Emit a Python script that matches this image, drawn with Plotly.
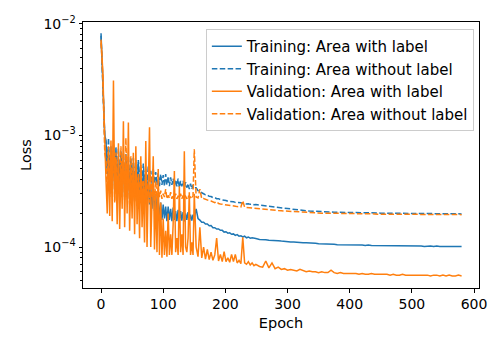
import plotly.graph_objects as go

epochs = ([0, 1, 2, 3, 4, 5, 6] + list(range(8, 151, 2))
          + list(range(153, 250, 3)) + list(range(255, 581, 5)))

# loss values in units of 1e-4
train_label = [
    82, 55, 35, 22, 15, 12, 10,
    9.0, 4.5, 7.5, 3.0, 8.0, 4.0, 6.5, 3.2, 7.8, 3.8,
    6.0, 2.9, 7.2, 4.2, 5.5, 2.8, 6.8, 3.5, 5.0, 2.7,
    6.2, 3.4, 5.2, 2.6, 4.8, 3.0, 5.8, 2.8, 4.4, 2.5,
    4.9, 2.6, 3.9, 2.3, 4.2, 2.4, 3.5, 2.2, 3.6, 2.1,
    3.0, 1.9, 2.6, 1.8, 2.5, 1.75, 2.4, 1.8, 2.3, 1.7,
    2.3, 1.75, 2.2, 1.7, 2.25, 1.75, 2.1, 1.7, 2.15, 1.7,
    2.1, 1.72, 2.05, 1.7, 2.0, 1.75, 2.05, 1.7, 1.95, 1.72,
    1.95, 1.8,
    2.2, 1.8, 1.74, 1.67, 1.67, 1.61, 1.61, 1.55, 1.56, 1.49,
    1.49, 1.45, 1.45, 1.41, 1.41, 1.36, 1.37, 1.33, 1.34, 1.3,
    1.31, 1.27, 1.29, 1.25, 1.26, 1.23, 1.25, 1.21, 1.23, 1.2,
    1.21, 1.19, 1.19,
    1.17, 1.17, 1.16, 1.15, 1.15, 1.14, 1.14, 1.13, 1.12, 1.12,
    1.11, 1.11, 1.10, 1.10, 1.09, 1.09, 1.09, 1.08, 1.08, 1.07,
    1.07, 1.07, 1.06, 1.06, 1.06, 1.05, 1.05, 1.05, 1.05, 1.04,
    1.04, 1.04, 1.04, 1.04, 1.03, 1.04, 1.03, 1.03, 1.03, 1.03,
    1.03, 1.03, 1.02, 1.03, 1.02, 1.03, 1.02, 1.02, 1.02, 1.02,
    1.02, 1.02, 1.02, 1.01, 1.02, 1.02, 1.01, 1.02, 1.01, 1.01,
    1.01, 1.02, 1.01, 1.01, 1.01, 1.01,
]

train_nolabel = [
    78, 52, 33, 21, 15, 11, 9.5,
    8.5, 5.0, 9.5, 4.2, 7.0, 3.8, 8.2, 4.5, 6.5, 3.6,
    7.6, 4.3, 6.0, 3.5, 7.0, 4.0, 5.8, 3.4, 6.6, 3.9,
    5.4, 3.5, 6.3, 3.8, 5.5, 3.4, 6.0, 3.9, 5.2, 3.6,
    5.6, 3.7, 5.0, 3.5, 5.3, 3.8, 4.8, 3.6, 5.0, 3.7,
    4.7, 3.6, 4.6, 3.5, 4.5, 3.6, 4.4, 3.5, 4.5, 3.6,
    4.3, 3.5, 4.2, 3.6, 4.1, 3.5, 4.0, 3.5, 4.1, 3.4,
    3.9, 3.5, 3.9, 3.4, 3.8, 3.4, 3.7, 3.3, 3.7, 3.3,
    3.6, 3.4,
    3.4, 3.2, 3.12, 3.03, 3.0, 2.93, 2.92, 2.84, 2.83, 2.77,
    2.77, 2.71, 2.71, 2.66, 2.65, 2.61, 2.61, 2.57, 2.57, 2.54,
    2.54, 2.51, 2.51, 2.48, 2.49, 2.45, 2.46, 2.43, 2.44, 2.41,
    2.42, 2.39, 2.4,
    2.37, 2.35, 2.33, 2.31, 2.29, 2.27, 2.25, 2.23, 2.22, 2.2,
    2.18, 2.16, 2.15, 2.13, 2.12, 2.11, 2.10, 2.09, 2.08, 2.08,
    2.07, 2.07, 2.06, 2.06, 2.05, 2.05, 2.05, 2.04, 2.04, 2.04,
    2.03, 2.03, 2.03, 2.03, 2.02, 2.02, 2.02, 2.02, 2.02, 2.01,
    2.01, 2.01, 2.01, 2.01, 2.01, 2.0, 2.0, 2.0, 2.0, 2.0,
    2.0, 2.0, 1.99, 1.99, 1.99, 1.99, 1.99, 1.99, 1.98, 1.98,
    1.98, 1.98, 1.98, 1.98, 1.98, 1.98,
]

val_label = [
    72, 60, 48, 36, 22, 12, 6.5,
    4.0, 2.0, 7.0, 1.9, 9.0, 1.7, 31, 2.5, 6.0, 1.6,
    8.5, 1.45, 5.5, 2.2, 13.4, 1.5, 6.5, 2.0, 13.0, 1.4,
    5.0, 1.8, 7.0, 1.3, 8.0, 1.6, 4.5, 1.2, 6.5, 1.5,
    3.8, 1.1, 8.9, 1.0, 4.0, 11.8, 1.0, 3.5, 6.5, 0.95,
    3.0, 0.9, 5.0, 0.85, 2.5, 0.8, 1.8, 0.85, 1.4, 0.82,
    2.0, 0.85, 1.3, 0.85, 1.6, 4.8, 0.9, 1.2, 0.85, 3.5,
    0.9, 1.3, 0.85, 7.2, 1.0, 0.9, 1.2, 3.1, 0.85, 1.1,
    0.85, 3.0,
    1.0, 0.82, 1.5, 0.8, 1.0, 0.78, 0.95, 0.77, 0.9, 0.76,
    0.85, 1.2, 0.75, 0.86, 0.74, 0.91, 0.74, 0.8, 0.73, 0.86,
    0.74, 0.86, 0.72, 0.76, 0.71, 1.22, 0.72, 0.7, 0.74, 0.69,
    0.72, 0.68, 0.7,
    0.67, 0.66, 0.75, 0.65, 0.72, 0.64, 0.66, 0.63, 0.64, 0.62,
    0.63, 0.62, 0.61, 0.63, 0.61, 0.6, 0.61, 0.6, 0.6, 0.59,
    0.6, 0.59, 0.59, 0.62, 0.59, 0.58, 0.59, 0.58, 0.58, 0.58,
    0.58, 0.58, 0.57, 0.58, 0.57, 0.57, 0.58, 0.57, 0.57, 0.57,
    0.57, 0.57, 0.56, 0.57, 0.56, 0.56, 0.57, 0.56, 0.56, 0.56,
    0.56, 0.56, 0.56, 0.56, 0.56, 0.55, 0.56, 0.56, 0.55, 0.56,
    0.55, 0.56, 0.55, 0.55, 0.56, 0.55,
]

val_nolabel = [
    68, 56, 44, 30, 18, 10, 7,
    6.0, 3.0, 8.0, 2.8, 6.5, 3.2, 9.0, 2.6, 7.0, 3.0,
    5.5, 2.5, 8.0, 3.2, 6.0, 2.6, 9.5, 3.0, 5.0, 2.4,
    6.5, 3.1, 4.8, 2.5, 6.0, 2.8, 4.2, 2.4, 5.5, 2.9,
    4.0, 2.5, 4.6, 2.7, 3.8, 2.5, 4.4, 2.8, 3.6, 2.6,
    3.9, 2.7, 3.4, 2.8, 3.2, 2.7, 3.0, 2.8, 3.3, 2.7,
    2.9, 2.75, 3.1, 2.7, 2.9, 2.8, 3.0, 2.7, 2.85, 2.75,
    3.0, 2.7, 2.9, 2.75, 2.85, 2.7, 2.9, 2.75, 2.8, 2.7,
    2.9, 7.5,
    2.8, 2.75, 3.3, 2.7, 2.72, 2.67, 2.62, 2.6, 2.58, 2.55,
    2.5, 2.55, 2.45, 2.43, 2.42, 2.4, 2.38, 2.36, 2.36, 2.34,
    2.33, 2.32, 2.3, 2.3, 2.28, 2.6, 2.27, 2.26, 2.25, 2.25,
    2.24, 2.23, 2.22,
    2.2, 2.19, 2.17, 2.15, 2.14, 2.13, 2.12, 2.11, 2.10, 2.09,
    2.08, 2.07, 2.06, 2.05, 2.04, 2.04, 2.03, 2.03, 2.02, 2.02,
    2.01, 2.01, 2.01, 2.0, 2.0, 2.0, 2.0, 1.99, 1.99, 1.99,
    1.99, 1.99, 1.98, 1.98, 1.98, 1.98, 1.98, 1.98, 1.97, 1.97,
    1.97, 1.97, 1.97, 1.97, 1.97, 1.97, 1.96, 1.96, 1.96, 1.96,
    1.96, 1.96, 1.96, 1.96, 1.96, 1.96, 1.95, 1.96, 1.95, 1.95,
    1.95, 1.95, 1.95, 1.95, 1.95, 1.95,
]

blue = "#1f77b4"
orange = "#ff7f0e"
dash = "5.5px,2.4px"

series = [
    ("Training: Area with label", train_label, blue, "solid"),
    ("Training: Area without label", train_nolabel, blue, dash),
    ("Validation: Area with label", val_label, orange, "solid"),
    ("Validation: Area without label", val_nolabel, orange, dash),
]

fig = go.Figure()
for name, vals, color, style in series:
    fig.add_trace(go.Scatter(
        x=epochs, y=[v * 1e-4 for v in vals], mode="lines", name=name,
        line=dict(color=color, width=1.5, dash=style),
    ))

minor_vals = [m * 10.0 ** e for e in (-5, -4, -3) for m in range(2, 10)]

fig.update_layout(
    width=500, height=350,
    margin=dict(l=83, r=21, t=22, b=62),
    paper_bgcolor="white", plot_bgcolor="white",
    font=dict(family="DejaVu Sans", size=14, color="black"),
    legend=dict(
        x=0.987, xanchor="right", y=0.974, yanchor="top",
        bgcolor="rgba(255,255,255,0.8)", bordercolor="#cccccc", borderwidth=1,
        font=dict(size=15), itemwidth=30,
    ),
    xaxis=dict(
        title=dict(text="Epoch", standoff=6, font=dict(size=14.5)),
        range=[-29, 608], tickvals=[0, 100, 200, 300, 400, 500, 600],
        showgrid=False, zeroline=False,
        showline=True, mirror=True, linecolor="black", linewidth=1,
        ticks="outside", ticklen=3.5, tickwidth=1, tickcolor="black",
    ),
    yaxis=dict(
        title=dict(text="Loss", standoff=8, font=dict(size=14.5)),
        type="log", range=[-4.367, -1.985],
        tickvals=[1e-4, 1e-3, 1e-2],
        ticktext=["10<sup>−4</sup>", "10<sup>−3</sup>", "10<sup>−2</sup>"],
        showgrid=False, zeroline=False,
        showline=True, mirror=True, linecolor="black", linewidth=1,
        ticks="outside", ticklen=3.5, tickwidth=1, tickcolor="black",
        minor=dict(tickvals=minor_vals, ticks="outside", ticklen=2,
                   tickwidth=0.8, tickcolor="black", showgrid=False),
    ),
)

fig.write_html("out.html", config={"displayModeBar": False},
               post_script="document.body.style.margin='0';")
